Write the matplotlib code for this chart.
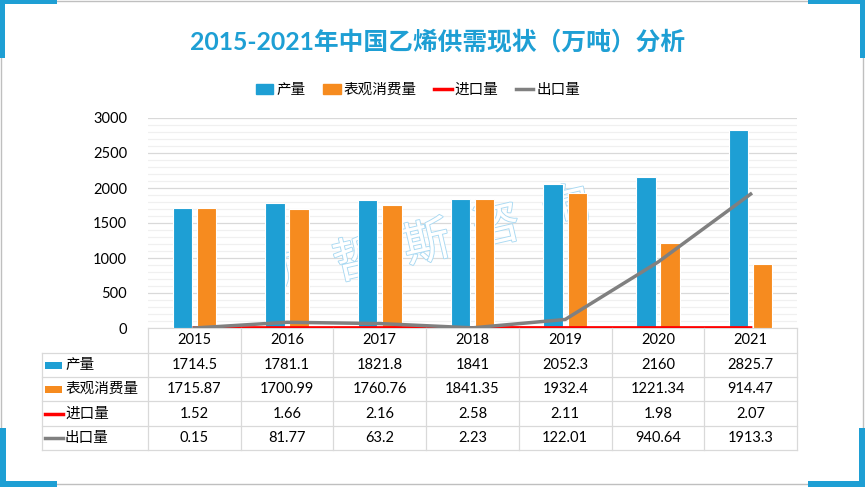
import numpy as np
import matplotlib
matplotlib.use("Agg")
import matplotlib.pyplot as plt
import matplotlib.transforms as mtransforms
import matplotlib.patheffects as pe
from matplotlib.patches import Rectangle, Patch
from matplotlib.lines import Line2D

plt.rcParams['font.family'] = ['Lato', 'Noto Sans CJK SC', 'DejaVu Sans']

# 数据
years = ['2015', '2016', '2017', '2018', '2019', '2020', '2021']
production = [1714.5, 1781.1, 1821.8, 1841, 2052.3, 2160, 2825.7]
consumption = [1715.87, 1700.99, 1760.76, 1841.35, 1932.4, 1221.34, 914.47]
imports = [1.52, 1.66, 2.16, 2.58, 2.11, 1.98, 2.07]
exports = [0.15, 81.77, 63.2, 2.23, 122.01, 940.64, 1913.3]
series_names = ['产量', '表观消费量', '进口量', '出口量']
title = '2015-2021年中国乙烯供需现状（万吨）分析'
watermark = '贝哲斯咨询'

blue = '#1E9FD4'
orange = '#F68B1F'
red = '#FF0000'
gray = '#808080'
gridc = '#D9D9D9'

W, H = 865, 487
fig = plt.figure(figsize=(W / 100, H / 100), dpi=100)
# 像素坐标 (左上为原点)
px = mtransforms.Affine2D().scale(1 / W, -1 / H).translate(0, 1) + fig.transFigure

# ------------------------
# 边框和蓝色角
fig.patches.append(Rectangle((1, 1), 862, 483, transform=px, fill=False,
                             edgecolor='#BFBFBF', lw=1))
for (x0, y0, w, h) in [(0, 0, 57, 4), (0, 0, 5, 58), (808, 0, 57, 4), (860, 0, 5, 58),
                       (0, 481, 57, 6), (0, 428, 6, 59), (808, 481, 57, 6), (859, 428, 6, 59)]:
    fig.patches.append(Rectangle((x0, y0), w, h, transform=px, color=blue, lw=0))

fig.text(438, 42, title, transform=px, ha='center', va='center',
         fontsize=17.8, fontweight='bold', color=blue)

# ------------------------
# 柱状图
ax = fig.add_axes([148 / W, 1 - 328 / H, (797 - 148) / W, (328 - 118) / H])
x = np.arange(len(years))
ax.bar(x - 0.13, production, 0.21, color=blue, edgecolor='white', lw=0.8, zorder=3)
ax.bar(x + 0.13, consumption, 0.21, color=orange, edgecolor='white', lw=0.8, zorder=3)
ax.plot(x, imports, color=red, lw=2.5, zorder=4)
ax.plot(x, exports, color=gray, lw=2.5, zorder=4)

ax.set_xlim(-0.5, len(years) - 0.5)
ax.set_ylim(0, 3000)
ax.set_yticks(np.arange(0, 3001, 500))
ax.set_yticks(np.arange(0, 3001, 100), minor=True)
ax.set_xticks([])
ax.set_axisbelow(True)
ax.grid(axis='y', which='major', color=gridc, lw=0.9)
ax.grid(axis='y', which='minor', color='#F0F0F0', lw=0.9)
ax.tick_params(axis='y', which='both', length=0, pad=15, labelsize=10.5)
for s in ['top', 'right', 'left']:
    ax.spines[s].set_visible(False)
ax.spines['bottom'].set_color(gridc)

# 水印
wx, wy = 287, 278
for i, ch in enumerate(watermark):
    ax.text(wx + i * 70, wy - i * 17, ch, transform=px, ha='center', va='center',
            fontsize=34, color='white', rotation=13, zorder=2,
            path_effects=[pe.Stroke(linewidth=1.3, foreground='#A9D9F2'), pe.Normal()])

# 图例
handles = [Patch(color=blue), Patch(color=orange),
           Line2D([], [], color=red, lw=2.5), Line2D([], [], color=gray, lw=2.5)]
fig.legend(handles, series_names, loc='center', bbox_to_anchor=(418 / W, 1 - 90 / H),
           ncol=4, frameon=False, fontsize=10.5, handlelength=1.2, handletextpad=0.2,
           columnspacing=1.2)

# ------------------------
# 数据表
tr = mtransforms.blended_transform_factory(ax.transData, px)
row_y = [328, 353, 377, 401, 426, 450]
for xv in np.arange(-0.5, len(years), 1.0):
    fig.add_artist(Line2D([xv, xv], [row_y[0], row_y[-1]], transform=tr, color=gridc, lw=0.9))
fig.add_artist(Line2D([42, 42], [row_y[1], row_y[-1]], transform=px, color=gridc, lw=0.9))
for yv in row_y[1:]:
    fig.add_artist(Line2D([42, 797], [yv, yv], transform=px, color=gridc, lw=0.9))

for i, yr in enumerate(years):
    fig.text(i, (row_y[0] + row_y[1]) / 2, yr, transform=tr, ha='center', va='center', fontsize=10.5)

table_rows = [production, consumption, imports, exports]
for r, vals in enumerate(table_rows):
    yc = (row_y[r + 1] + row_y[r + 2]) / 2
    for i, v in enumerate(vals):
        fig.text(i, yc, f'{v:g}', transform=tr, ha='center', va='center', fontsize=10.5)
    fig.text(65, yc, series_names[r], transform=px, ha='left', va='center', fontsize=10.5)
    if r < 2:
        fig.patches.append(Rectangle((45, yc - 3.5), 17, 7, transform=px,
                                     color=[blue, orange][r], lw=0))
    else:
        fig.add_artist(Line2D([45, 63], [yc, yc], transform=px,
                              color=[red, gray][r - 2], lw=2.5))

fig.savefig('out.png', dpi=100)
